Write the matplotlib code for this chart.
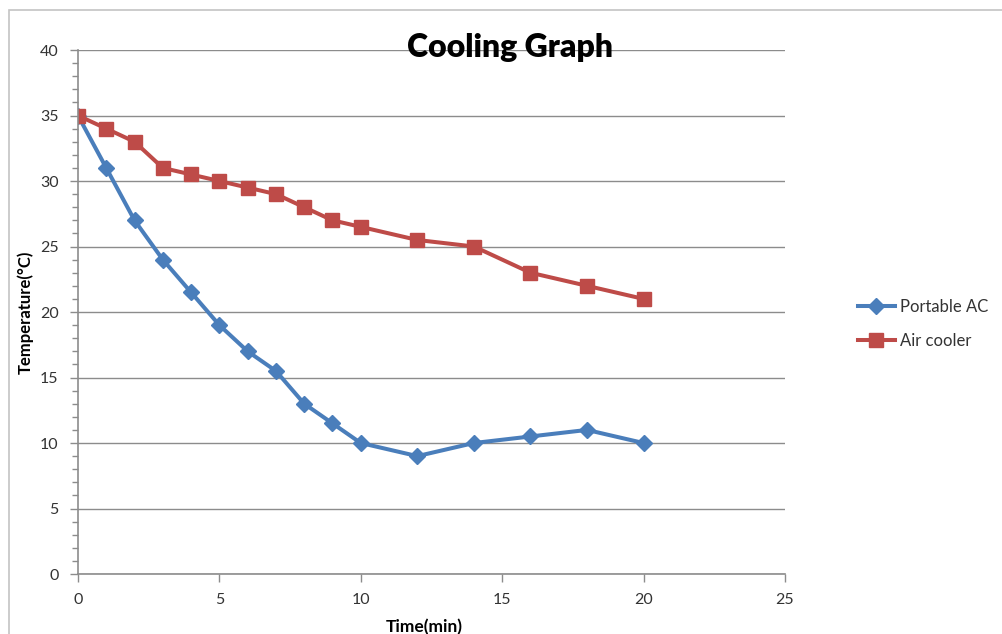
import matplotlib
matplotlib.use("Agg")
import matplotlib.pyplot as plt
from matplotlib.patches import Rectangle
from matplotlib.ticker import MultipleLocator

# time points (min)
time_min = [0, 1, 2, 3, 4, 5, 6, 7, 8, 9, 10, 12, 14, 16, 18, 20]
# temperatures (°C)
portable_ac = [35, 31, 27, 24, 21.5, 19, 17, 15.5, 13, 11.5, 10, 9, 10, 10.5, 11, 10]
air_cooler = [35, 34, 33, 31, 30.5, 30, 29.5, 29, 28, 27, 26.5, 25.5, 25, 23, 22, 21]

plt.rcParams['font.family'] = ['Lato', 'DejaVu Sans']

fig = plt.figure(figsize=(10.02, 6.34), dpi=100)
ax = fig.add_axes([0.0778, 0.0946, 0.7056, 0.8265])

# outer chart frame (cropped at right/bottom)
fig.patches.append(Rectangle((9 / 1002, -0.1), 1.2, 1 - 10 / 634 + 0.1,
                             transform=fig.transFigure, fill=False,
                             edgecolor='#c4c4c4', linewidth=1.2))

ax.plot(time_min, portable_ac, color='#4A7EBB', linewidth=2.9,
        marker='D', markersize=8.5, label='Portable AC')
ax.plot(time_min, air_cooler, color='#BE4B48', linewidth=2.9,
        marker='s', markersize=9.5, label='Air cooler')

ax.set_xlim(0, 25)
ax.set_ylim(0, 40)
ax.xaxis.set_major_locator(MultipleLocator(5))
ax.yaxis.set_major_locator(MultipleLocator(5))
ax.yaxis.set_minor_locator(MultipleLocator(1))

ax.grid(axis='y', which='major', color='#8c8c8c', linewidth=1.0)
ax.set_axisbelow(True)

for side in ['top', 'right']:
    ax.spines[side].set_visible(False)
for side in ['left', 'bottom']:
    ax.spines[side].set_color('#8c8c8c')
    ax.spines[side].set_linewidth(1.2)

ax.tick_params(axis='both', which='major', length=6, width=1.0,
               color='#8c8c8c', labelsize=11.5, labelcolor='#333333')
ax.tick_params(axis='y', which='minor', length=4, width=1.0, color='#8c8c8c')
ax.tick_params(axis='x', pad=8)
ax.tick_params(axis='y', pad=8)

ax.set_xlabel('Time(min)', fontweight='bold', fontsize=12.5)
ax.set_ylabel('Temperature(°C)', fontweight='bold', fontsize=12)
ax.xaxis.set_label_coords(0.49, -0.085)
ax.yaxis.set_label_coords(-0.063, 0.5)

fig.text(510 / 1002, 1 - 48 / 634, 'Cooling Graph', fontsize=23,
         fontweight='heavy', ha='center', va='center', color='black')

leg = fig.legend(loc='center left', bbox_to_anchor=(843 / 1002, 1 - 324 / 634),
                 frameon=False, fontsize=12, handlelength=2.2,
                 labelspacing=1.1, handletextpad=0.3)
for t in leg.get_texts():
    t.set_color('#333333')

fig.savefig('out.png', dpi=100)
